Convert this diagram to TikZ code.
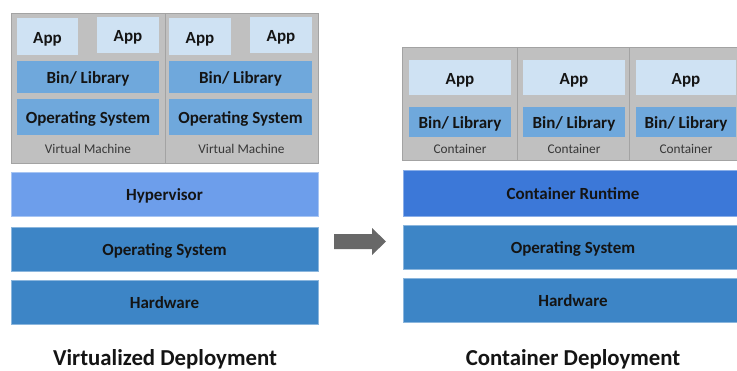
\documentclass[tikz,border=0pt]{standalone}
\usepackage{fontspec}
\setmainfont{Carlito}
\definecolor{appfill}{HTML}{CFE2F3}
\definecolor{libfill}{HTML}{6FA8DC}
\definecolor{hypfill}{HTML}{6D9EEB}
\definecolor{osfill}{HTML}{3D85C6}
\definecolor{rtfill}{HTML}{3C78D8}
\definecolor{frame}{HTML}{C0C0C0}
\definecolor{frameline}{HTML}{A3A3A3}
\definecolor{arrowgray}{HTML}{686868}
\definecolor{ink}{HTML}{141414}
\tikzset{
  layer/.style={inner sep=0pt, outer sep=0pt, text=ink, text height=13.5pt, text depth=0pt,
    font=\fontsize{17}{19}\selectfont\bfseries},
  holder/.style={layer, fill=frame, draw=frameline, line width=0.8pt, minimum height=#1},
  appbox/.style={layer, fill=appfill, minimum width=#1, minimum height=37pt},
  libbox/.style={layer, fill=libfill, minimum width=#1, minimum height=32pt},
  vmos/.style={layer, fill=libfill, minimum width=142pt, minimum height=36pt},
  hyper/.style={layer, fill=hypfill, draw=hypfill!60!white, line width=0.6pt, minimum width=307pt, minimum height=44pt},
  base/.style={layer, fill=osfill, draw=osfill!60!white, line width=0.6pt, minimum width=#1, minimum height=44pt},
  runtime/.style={layer, fill=rtfill, draw=rtfill!60!white, line width=0.6pt, minimum width=340pt, minimum height=46pt},
  caption/.style={inner sep=0pt, text=ink!85, text height=10pt, text depth=0pt, font=\fontsize{13.3}{15}\selectfont},
  heading/.style={inner sep=0pt, anchor=base, text=ink, font=\fontsize{22.8}{26}\selectfont\bfseries},
}
\begin{document}
\begin{tikzpicture}[x=1pt, y=-1pt]
\useasboundingbox (0,0) rectangle (737,370);
\clip (0,0) rectangle (737,370);

% ---- virtualized deployment ----
\node[holder=150pt, minimum width=154pt] (vm1) at (88,88) {};
\node[holder=150pt, minimum width=153pt] (vm2) at (241.5,88) {};
\node[appbox=61pt] (app1) at (47.5,36.5) {App};
\node[appbox=62pt, minimum height=36pt] (app2) at (128,35) {App};
\node[appbox=62pt] (app3) at (200,36.5) {App};
\node[appbox=62pt, minimum height=36pt] (app4) at (281,35) {App};
\node[libbox=142pt] (lib1) at (88,77) {Bin/ Library};
\node[libbox=143pt] (lib2) at (240.5,77) {Bin/ Library};
\node[vmos] (gos1) at (88,117) {Operating System};
\node[vmos, minimum width=143pt] (gos2) at (240.5,117) {Operating System};
\node[caption] (vml1) at (88,148) {Virtual Machine};
\node[caption] (vml2) at (241.5,148) {Virtual Machine};
\node[hyper] (hyp) at (164.5,194) {Hypervisor};
\node[base=307pt] (hos1) at (164.5,249) {Operating System};
\node[base=307pt] (hw1) at (164.5,302) {Hardware};
\node[heading] (t1) at (165,365) {Virtualized Deployment};

% ---- transition arrow ----
\fill[arrowgray] (334,234) -- (372,234) -- (372,228) -- (386,241.5)
  -- (372,255) -- (372,249) -- (334,249) -- cycle;

% ---- container deployment ----
\node[holder=113pt, minimum width=115pt] (c1) at (459.5,103.5) {};
\node[holder=113pt, minimum width=112pt] (c2) at (573,103.5) {};
\node[holder=113pt, minimum width=114pt] (c3) at (686,103.5) {};
\node[appbox=102pt, minimum height=35pt] (capp1) at (460,77.5) {App};
\node[appbox=102pt, minimum height=35pt] (capp2) at (574,77.5) {App};
\node[appbox=100pt, minimum height=35pt] (capp3) at (686,77.5) {App};
\node[libbox=102pt, minimum height=30pt] (clib1) at (460,122) {Bin/ Library};
\node[libbox=102pt, minimum height=30pt] (clib2) at (574,122) {Bin/ Library};
\node[libbox=100pt, minimum height=30pt] (clib3) at (686,122) {Bin/ Library};
\node[caption] (cl1) at (460,148.5) {Container};
\node[caption] (cl2) at (574,148.5) {Container};
\node[caption] (cl3) at (686,148.5) {Container};
\node[runtime] (rt) at (573,193) {Container Runtime};
\node[base=340pt] (hos2) at (573,247) {Operating System};
\node[base=340pt] (hw2) at (573,300) {Hardware};
\node[heading] (t2) at (573,365) {Container Deployment};
\end{tikzpicture}
\end{document}
